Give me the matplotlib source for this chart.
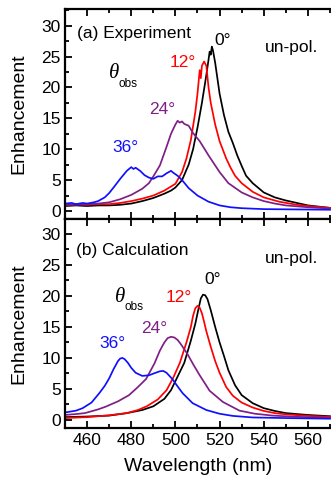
import matplotlib
matplotlib.use("Agg")
import matplotlib.pyplot as plt
from matplotlib.ticker import MultipleLocator

plt.rcParams['font.family'] = ['Liberation Sans', 'DejaVu Sans']

# ---------------- data: panel (a) experiment ----------------
exp_wl_0 = [450, 455, 460, 465, 470, 475, 480, 485, 490, 495, 498, 500, 503, 506, 508, 510, 512, 514, 515, 515.5,
            516, 516.5, 517, 518, 520, 522, 524, 526, 528, 530, 532, 535, 540, 545, 550, 555, 560, 565, 570]
exp_0 = [0.8, 0.9, 0.8, 0.9, 0.9, 1.0, 1.2, 1.6, 2.1, 2.8, 3.3, 3.8, 5.0, 7.5, 10.0, 13.5, 17.5, 22.0, 24.5, 25.8,
         25.3, 26.6, 26.0, 24.0, 19.0, 15.5, 12.8, 11.0, 9.0, 7.3, 5.7, 4.5, 3.0, 2.2, 1.7, 1.3, 0.9, 0.7, 0.5]

exp_wl_12 = [450, 455, 460, 465, 470, 475, 480, 485, 490, 495, 500, 503, 505, 507, 509, 510, 511, 511.5, 512, 513,
             514, 515, 516, 518, 520, 523, 525, 527, 530, 535, 540, 547, 555, 560, 570]
exp_12 = [1.0, 1.1, 1.0, 1.1, 1.1, 1.3, 1.6, 2.0, 2.5, 3.3, 4.4, 6.3, 8.5, 11.5, 16.0, 19.0, 22.8, 21.5, 23.5, 24.2,
          23.5, 20.0, 17.5, 14.0, 11.3, 8.5, 7.0, 5.7, 4.5, 3.1, 2.2, 1.5, 1.0, 0.8, 0.5]

exp_wl_24 = [450, 455, 460, 465, 470, 475, 480, 485, 488, 490, 493, 496, 498, 500, 501, 502, 503, 504, 506, 508,
             511, 515, 520, 524, 530, 535, 540, 545, 550, 560, 570]
exp_24 = [1.0, 1.0, 1.1, 1.2, 1.4, 1.9, 2.6, 3.6, 4.5, 5.6, 7.4, 10.4, 12.5, 14.0, 14.6, 14.3, 14.5, 14.1, 13.8, 12.6,
          11.3, 9.0, 6.3, 4.5, 3.0, 2.2, 1.6, 1.2, 0.9, 0.6, 0.4]

exp_wl_36 = [450, 453, 455, 458, 460, 463, 465, 468, 470, 472, 475, 478, 480, 481, 482, 484, 486, 487, 488, 490,
             492, 494, 496, 498, 499, 501, 503, 506, 510, 515, 520, 525, 530, 540, 570]
exp_36 = [1.2, 1.3, 1.1, 1.3, 1.2, 1.4, 1.6, 2.2, 2.9, 3.8, 5.2, 6.5, 7.1, 6.8, 7.0, 6.5, 5.8, 5.6, 5.4, 5.2,
          5.6, 5.6, 6.1, 6.5, 6.2, 5.7, 5.0, 3.7, 2.5, 1.5, 0.9, 0.6, 0.45, 0.3, 0.2]

# ---------------- data: panel (b) calculation ----------------
calc_wl_0 = [450, 460, 470, 478, 485, 490, 495, 498, 501, 504, 507, 509, 510.5, 511.5, 512.5, 513.5, 514.5, 516,
             518, 520, 522, 524, 527, 530, 535, 540, 545, 550, 560, 570]
calc_0 = [0.45, 0.55, 0.7, 1.1, 1.6, 2.2, 3.4, 4.8, 7.0, 9.2, 12.8, 15.5, 18.0, 19.6, 20.2, 20.1, 19.5, 17.7,
          15.0, 12.5, 10.3, 8.0, 5.6, 4.0, 2.7, 1.9, 1.45, 1.1, 0.8, 0.6]

calc_wl_12 = [450, 460, 470, 478, 483, 487, 492, 496, 499, 502, 505, 507, 508, 509, 510, 511, 512, 513, 514, 516,
              518, 520, 523, 526, 530, 535, 540, 545, 550, 560, 570]
calc_12 = [0.3, 0.45, 0.75, 1.1, 1.6, 2.2, 3.3, 4.8, 6.8, 9.2, 12.5, 15.0, 16.8, 18.0, 18.4, 18.1, 17.2, 15.8, 14.3, 11.8,
           9.5, 7.6, 5.3, 3.9, 2.8, 2.0, 1.45, 1.1, 0.9, 0.65, 0.5]

calc_wl_24 = [450, 455, 459, 465, 468.5, 474, 479, 483, 486.7, 490.5, 493, 495, 496.5, 498, 499.5, 501, 502.5,
              505.5, 508, 511, 515.5, 521.5, 529, 536, 544, 555, 570]
calc_24 = [0.8, 0.95, 1.1, 1.7, 2.15, 3.0, 4.0, 5.3, 6.6, 9.1, 11.2, 12.5, 13.2, 13.4, 13.3, 12.9, 12.2,
           10.6, 9.0, 7.2, 4.7, 2.9, 1.5, 1.0, 0.7, 0.5, 0.35]

calc_wl_36 = [450, 455, 458, 462, 465.5, 468, 470, 472, 474, 475, 476, 477, 478.5, 480, 482, 485, 488, 491, 493,
              494.5, 496, 498.6, 501, 503.3, 507.8, 514, 520, 526, 535, 550, 570]
calc_36 = [1.2, 1.5, 1.9, 2.8, 4.3, 5.5, 6.7, 8.2, 9.5, 9.9, 10.0, 9.8, 9.2, 8.4, 7.6, 7.1, 7.2, 7.6, 7.85,
           7.9, 7.6, 6.6, 5.4, 4.3, 2.7, 1.6, 1.0, 0.65, 0.4, 0.3, 0.2]

angle_labels = ["0°", "12°", "24°", "36°"]
colors = ["#000000", "#ff0000", "#7f1f86", "#1010ff"]

xticks = [460, 480, 500, 520, 540, 560]
yticks = [0, 5, 10, 15, 20, 25, 30]

W, H = 331, 479
fig = plt.figure(figsize=(W / 100, H / 100), dpi=100)

left = 65 / W
right = 1.0
ax_a = fig.add_axes([left, 1 - 219 / H, right - left, (219 - 9) / H])
ax_b = fig.add_axes([left, 1 - 428 / H, right - left, (428 - 219) / H])

fs_tick = 12.5
fs_txt = 12.5

def style(ax, ylim):
    ax.set_xlim(450, 450 + (W - 66) / 2.2)
    ax.set_ylim(*ylim)
    ax.xaxis.set_major_locator(MultipleLocator(20))
    ax.xaxis.set_minor_locator(MultipleLocator(10))
    ax.yaxis.set_major_locator(MultipleLocator(5))
    ax.yaxis.set_minor_locator(MultipleLocator(2.5))
    ax.tick_params(which='both', direction='in', top=True, right=False, width=1.3, labelsize=fs_tick)
    ax.tick_params(which='major', length=5)
    ax.tick_params(which='minor', length=3)
    ax.tick_params(axis='y', pad=3)
    for s in ['left', 'top', 'bottom']:
        ax.spines[s].set_linewidth(1.6)
    ax.spines['right'].set_visible(False)
    ax.set_yticks(yticks)
    ax.set_ylabel("Enhancement", fontsize=14)
    ax.yaxis.set_label_coords(-(65 - 27) / (W - 65), 0.5)

style(ax_a, (-1.3, 32.7))
style(ax_b, (-1.3, 32.4))
ax_a.tick_params(labelbottom=False)
ax_b.set_xticks(xticks)
ax_b.set_xlabel("Wavelength (nm)", fontsize=14, labelpad=7)

exp_sets = [(exp_wl_0, exp_0), (exp_wl_12, exp_12), (exp_wl_24, exp_24), (exp_wl_36, exp_36)]
calc_sets = [(calc_wl_0, calc_0), (calc_wl_12, calc_12), (calc_wl_24, calc_24), (calc_wl_36, calc_36)]

for (x, y), c in zip(exp_sets, colors):
    ax_a.plot(x, y, color=c, lw=1.25)
for (x, y), c in zip(calc_sets, colors):
    ax_b.plot(x, y, color=c, lw=1.25)


def theta_obs(ax, x, y):
    ax.text(x, y, "θ", fontsize=15, family=['Liberation Serif', 'DejaVu Serif'], style='italic',
            va='center', ha='left')
    ax.text(x + 4.3, y - 1.6, "obs", fontsize=8.5, va='center', ha='left')


# panel (a) annotations
ax_a.text(455.5, 28.8, "(a) Experiment", fontsize=fs_txt, va='center', ha='left')
ax_a.text(540.5, 26.4, "un-pol.", fontsize=fs_txt, va='center', ha='left')
ax_a.text(517.5, 27.6, angle_labels[0], color=colors[0], fontsize=fs_txt, va='center', ha='left')
ax_a.text(497.3, 24.1, angle_labels[1], color=colors[1], fontsize=fs_txt, va='center', ha='left')
ax_a.text(488.0, 16.4, angle_labels[2], color=colors[2], fontsize=fs_txt, va='center', ha='left')
ax_a.text(471.5, 10.2, angle_labels[3], color=colors[3], fontsize=fs_txt, va='center', ha='left')
theta_obs(ax_a, 470.0, 22.2)

# panel (b) annotations
ax_b.text(455.0, 27.4, "(b) Calculation", fontsize=fs_txt, va='center', ha='left')
ax_b.text(540.5, 26.1, "un-pol.", fontsize=fs_txt, va='center', ha='left')
ax_b.text(513.0, 22.6, angle_labels[0], color=colors[0], fontsize=fs_txt, va='center', ha='left')
ax_b.text(495.5, 19.7, angle_labels[1], color=colors[1], fontsize=fs_txt, va='center', ha='left')
ax_b.text(484.5, 14.8, angle_labels[2], color=colors[2], fontsize=fs_txt, va='center', ha='left')
ax_b.text(465.5, 12.4, angle_labels[3], color=colors[3], fontsize=fs_txt, va='center', ha='left')
theta_obs(ax_b, 472.5, 19.8)

fig.savefig("out.png", dpi=100)
